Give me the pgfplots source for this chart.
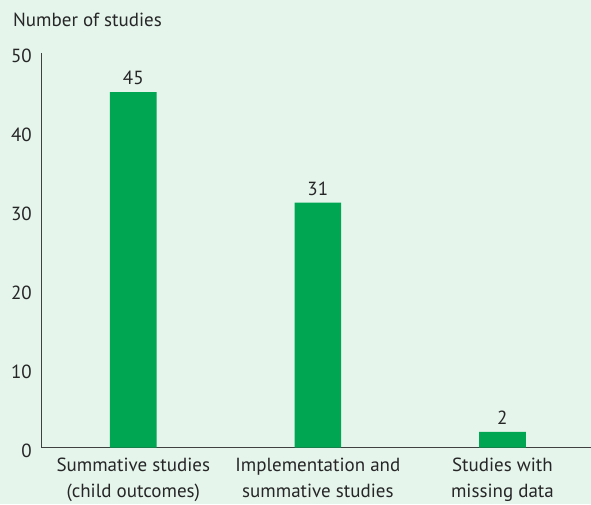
\documentclass[border=0pt]{standalone}
\usepackage{fontspec}
\setmainfont{PT Sans}
\usepackage{pgfplots}
\pgfplotsset{compat=1.18}
\definecolor{bgc}{HTML}{E5F5EC}
\definecolor{barc}{HTML}{00A651}
\definecolor{txt}{HTML}{262626}
\definecolor{axc}{HTML}{404040}
\newcommand{\lblfont}{\fontsize{19}{26}\selectfont}
\begin{document}
\begin{tikzpicture}[x=1pt,y=1pt]
\fill[bgc] (0,0) rectangle (591,504);
\node[anchor=west, text=txt, inner sep=0pt, font=\lblfont] at (13,484) {Number of studies};
\begin{axis}[
  at={(41pt,56.3pt)}, anchor=south west,
  scale only axis, width=550pt, height=395.2pt,
  xmin=-0.5, xmax=2.48, ymin=0, ymax=50,
  axis x line*=bottom, axis y line*=left,
  axis line style={draw=axc, line width=0.9pt},
  major tick length=0pt,
  ytick={0,10,...,50},
  xtick={0,1,2},
  xticklabels={{Summative studies\\(child outcomes)},{Implementation and\\summative studies},{Studies with\\missing data}},
  /pgf/number format/assume math mode=true,
  yticklabel style={text=txt, font=\lblfont, inner sep=0pt, xshift=-9pt, yshift=-3pt},
  xticklabel style={text=txt, font=\lblfont, align=center, inner sep=0pt, yshift=-10pt},
  ybar, bar width=46.7pt,
  nodes near coords,
  every node near coord/.append style={text=txt, font=\lblfont, inner sep=0pt, yshift=7pt},
  clip=false,
]
\addplot[fill=barc, draw=none] coordinates {(0,45) (1,31) (2,2)};
\end{axis}
% the page is exactly the coloured panel
\pgfresetboundingbox
\path[use as bounding box] (0,0) rectangle (591,504);
\end{tikzpicture}
\end{document}
